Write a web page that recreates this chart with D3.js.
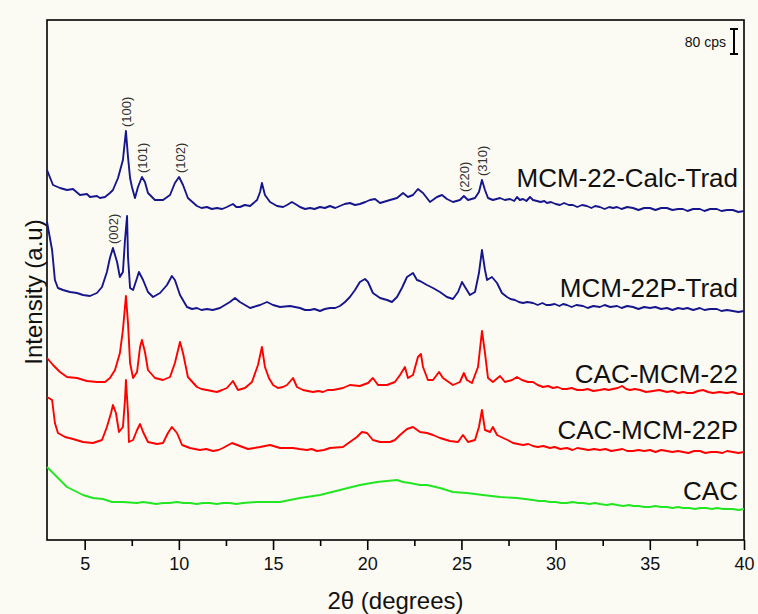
<!DOCTYPE html>
<html>
<head>
<meta charset="utf-8">
<script src="https://cdn.jsdelivr.net/npm/d3@7"></script>
<style>
  html, body { margin: 0; padding: 0; background: #fcfbf3; }
  svg { display: block; font-family: "Liberation Sans", Arial, sans-serif; }
</style>
</head>
<body>
<svg id="chart" width="758" height="614"></svg>
<script>
// XRD patterns, stacked: [2θ (degrees), intensity (a.u., offset included)]
const calcTrad = [
  [3.00,370],[3.32,355],[3.69,352],[4.06,350],[4.38,351],[4.75,345],[5.12,346],[5.28,343],[5.65,344],[5.81,342],
  [6.08,343],[6.34,347],[6.50,350],[6.77,362],[7.03,380],[7.19,409],[7.30,383],[7.41,362],[7.51,353],[7.67,342],
  [7.83,353],[8.04,363],[8.20,358],[8.36,347],[8.73,340],[9.16,340],[9.53,345],[9.79,357],[10.01,363],[10.22,355],
  [10.48,342],[10.96,334],[11.2,332],[11.49,333],[11.75,331],[12.02,332],[12.3,331],[12.55,333],[12.87,336],[13.05,333],
  [13.24,333],[13.5,335],[13.78,334],[14.15,340],[14.31,348],[14.41,357],[14.57,345],[14.84,338],[15.21,334],[15.53,333],
  [15.74,335],[16.00,338],[16.27,335],[16.43,333],[16.7,331],[16.96,332],[17.2,331],[17.49,333],[17.75,332],[18.02,334],
  [18.3,332],[18.55,334],[18.8,336],[19.08,337],[19.35,335],[19.61,336],[19.9,338],[20.14,340],[20.41,341],[20.68,337],
  [21.21,340],[21.58,342],[21.90,347],[22.16,343],[22.43,345],[22.69,351],[22.96,347],[23.33,338],[23.70,343],[23.97,345],
  [24.23,341],[24.55,338],[24.92,340],[25.13,344],[25.35,340],[25.72,342],[25.93,348],[26.09,360],[26.25,350],[26.41,342],
  [26.67,340],[27.05,342],[27.3,340],[27.58,341],[27.8,339],[27.95,343],[28.1,340],[28.27,341],[28.45,339],[28.64,343],
  [28.8,340],[29.01,339],[29.2,338],[29.4,339],[29.54,337],[29.75,338],[30.0,336],[30.23,335],[30.45,337],[30.7,335],
  [30.92,335],[31.15,333],[31.4,335],[31.66,334],[31.9,332],[32.1,334],[32.35,333],[32.6,331],[32.85,333],[33.05,332],
  [33.26,333],[33.5,331],[33.8,333],[34.11,332],[34.4,330],[34.7,332],[35.01,332],[35.3,330],[35.6,332],[35.91,332],
  [36.2,330],[36.5,331],[36.76,331],[37.0,329],[37.3,331],[37.66,331],[37.9,329],[38.2,331],[38.56,331],[38.8,329],
  [39.1,330],[39.41,330],[39.7,328],[40.0,329]
];
const pTrad = [
  [3.00,318],[3.27,290],[3.42,260],[3.58,252],[3.85,250],[4.22,248],[4.59,247],[4.91,245],[5.28,244],[5.65,247],
  [5.92,253],[6.18,268],[6.34,282],[6.50,292],[6.72,278],[6.87,263],[7.03,268],[7.14,300],[7.25,324],[7.30,283],
  [7.41,252],[7.57,250],[7.78,262],[7.88,268],[8.10,260],[8.36,248],[8.63,243],[9.00,247],[9.37,255],[9.63,264],
  [9.79,260],[10.06,245],[10.43,233],[10.7,231],[10.96,232],[11.2,230],[11.49,231],[11.8,230],[12.18,232],[12.71,238],
  [12.98,242],[13.24,238],[13.78,232],[14.31,235],[14.68,238],[15.00,235],[15.37,233],[15.90,234],[16.43,232],[16.7,230],
  [16.96,230],[17.2,231],[17.49,229],[17.75,231],[18.02,232],[18.3,232],[18.55,234],[18.82,238],[19.08,243],[19.35,250],
  [19.61,258],[19.88,261],[20.04,258],[20.30,247],[20.68,242],[21.05,240],[21.31,238],[21.58,243],[21.84,252],[22.11,263],
  [22.27,265],[22.43,267],[22.64,260],[22.80,259],[23.17,255],[23.49,252],[23.86,248],[24.23,243],[24.55,241],[24.82,248],
  [25.03,258],[25.19,253],[25.45,245],[25.72,248],[25.93,267],[26.09,290],[26.25,270],[26.36,260],[26.62,263],[26.89,257],
  [27.15,247],[27.42,243],[27.6,241],[27.84,240],[28.05,238],[28.27,237],[28.5,238],[28.8,237],[29.05,235],[29.3,237],
  [29.5,235],[29.7,235],[29.95,236],[30.2,234],[30.4,236],[30.6,235],[30.85,233],[31.1,235],[31.45,234],[31.7,232],
  [32.0,234],[32.35,233],[32.6,235],[32.9,233],[33.26,234],[33.5,232],[33.8,234],[34.11,233],[34.4,231],[34.7,233],
  [35.01,232],[35.3,233],[35.6,231],[35.91,232],[36.2,230],[36.5,232],[36.76,231],[37.0,232],[37.3,230],[37.66,232],
  [37.9,230],[38.2,231],[38.56,231],[38.8,229],[39.1,230],[39.41,229],[39.7,228],[40.0,229]
];
const cacMcm22 = [
  [3.00,182],[3.32,175],[3.69,168],[4.06,163],[4.59,162],[5.12,159],[5.65,158],[6.08,158],[6.34,162],[6.61,170],
  [6.87,187],[7.03,210],[7.19,244],[7.30,217],[7.41,177],[7.57,162],[7.78,168],[7.94,193],[8.04,200],[8.20,188],
  [8.36,170],[8.73,162],[9.16,160],[9.53,163],[9.79,177],[10.06,198],[10.22,187],[10.48,163],[10.96,153],[11.2,151],
  [11.49,150],[11.75,149],[12.02,148],[12.3,150],[12.55,152],[12.87,159],[13.14,150],[13.51,152],[13.88,158],[14.20,175],
  [14.41,193],[14.57,173],[14.78,162],[15.00,155],[15.26,152],[15.53,153],[15.74,155],[16.06,162],[16.27,153],[16.59,150],
  [16.85,149],[17.12,148],[17.4,149],[17.65,148],[17.9,150],[18.18,150],[18.45,151],[18.71,152],[19.08,155],[19.61,154],
  [20.04,157],[20.30,162],[20.57,155],[21.05,155],[21.47,158],[21.74,165],[22.00,173],[22.16,162],[22.43,165],[22.69,183],
  [22.85,186],[22.96,173],[23.22,160],[23.49,160],[23.81,168],[24.02,162],[24.55,155],[24.92,158],[25.13,167],[25.29,160],
  [25.56,157],[25.88,173],[26.09,209],[26.25,187],[26.41,162],[26.67,158],[27.05,164],[27.31,158],[27.69,160],[27.95,163],
  [28.21,160],[28.53,158],[28.80,158],[29.05,155],[29.33,153],[29.6,154],[29.86,152],[30.1,153],[30.35,151],[30.6,151],
  [30.85,152],[31.15,150],[31.45,150],[31.7,151],[32.0,149],[32.35,150],[32.6,151],[32.8,150],[33.04,151],[33.3,152],
  [33.52,154],[33.75,151],[33.95,150],[34.2,151],[34.48,150],[34.8,148],[35.17,149],[35.5,150],[35.91,148],[36.2,149],
  [36.5,147],[36.76,148],[37.0,147],[37.29,147],[37.55,149],[37.82,150],[38.1,148],[38.35,147],[38.7,148],[39.09,147],
  [39.4,148],[39.7,146],[40.0,146]
];
const cacMcm22P = [
  [3.00,143],[3.27,140],[3.42,117],[3.58,107],[3.96,103],[4.38,101],[4.91,98],[5.44,97],[5.92,100],[6.18,113],
  [6.40,127],[6.50,135],[6.66,127],[6.82,108],[7.03,113],[7.14,140],[7.19,160],[7.30,127],[7.35,98],[7.57,100],
  [7.78,110],[7.94,116],[8.10,108],[8.36,98],[8.84,96],[9.16,97],[9.42,107],[9.63,113],[9.90,107],[10.17,95],
  [10.59,92],[10.85,91],[11.12,90],[11.45,91],[11.81,89],[12.1,90],[12.34,92],[12.82,97],[13.24,94],[13.67,91],
  [14.31,93],[14.84,95],[15.37,92],[16.06,92],[16.4,91],[16.80,90],[17.05,91],[17.33,89],[17.7,90],[18.02,92],
  [18.71,93],[19.08,98],[19.45,103],[19.72,108],[19.99,107],[20.30,100],[20.68,98],[21.21,98],[21.47,100],[21.74,105],
  [22.11,111],[22.43,113],[22.80,108],[23.17,107],[23.49,105],[23.86,102],[24.39,99],[24.82,98],[25.08,105],[25.35,98],
  [25.72,100],[25.93,113],[26.09,130],[26.25,110],[26.52,108],[26.67,113],[26.89,105],[27.21,102],[27.45,100],[27.74,97],
  [28.0,96],[28.27,95],[28.55,96],[28.80,94],[29.05,93],[29.35,94],[29.70,92],[29.95,93],[30.25,91],[30.60,92],
  [30.9,90],[31.15,92],[31.45,91],[31.75,90],[32.05,91],[32.35,90],[32.65,91],[32.95,89],[33.26,90],[33.55,91],
  [33.8,89],[34.11,89],[34.4,90],[34.7,89],[35.01,90],[35.3,88],[35.6,90],[35.91,89],[36.2,88],[36.5,89],
  [36.76,88],[37.05,87],[37.35,89],[37.66,89],[37.95,87],[38.25,88],[38.56,88],[38.85,87],[39.1,89],[39.41,88],
  [39.7,87],[40.0,88]
];
const cac = [
  [3.00,73],[3.32,67],[3.69,60],[4.06,53],[4.38,50],[4.91,45],[5.44,42],[5.97,41],[6.45,38],[7.03,38],
  [7.78,37],[8.1,38],[8.47,37],[8.8,36],[9.16,37],[9.5,37],[9.90,38],[10.25,37],[10.59,37],[10.95,36],
  [11.28,37],[11.65,37],[12.02,36],[12.35,37],[12.71,37],[13.05,36],[13.40,37],[14.15,38],[14.84,38],[15.37,38],
  [15.90,40],[16.43,42],[17.49,45],[18.55,50],[19.61,55],[20.52,58],[21.58,60],[21.90,58],[22.27,57],[22.80,55],
  [23.17,55],[23.86,52],[24.55,48],[25.29,47],[26.14,45],[27.05,43],[27.95,42],[28.80,40],[29.1,39],[29.4,39],
  [29.70,38],[30.0,38],[30.3,37],[30.60,37],[30.9,38],[31.2,37],[31.45,37],[31.8,36],[32.1,37],[32.35,36],
  [32.7,35],[33.0,36],[33.26,35],[33.6,34],[33.9,35],[34.11,34],[34.4,34],[34.7,33],[35.01,33],[35.3,34],
  [35.6,33],[35.91,33],[36.2,32],[36.5,33],[36.76,32],[37.1,32],[37.4,31],[37.66,32],[38.0,32],[38.3,31],
  [38.56,32],[38.9,31],[39.2,31],[39.41,31],[39.7,30],[40.0,31]
];

const seriesData   = [calcTrad, pTrad, cacMcm22, cacMcm22P, cac];
const seriesNames  = ["MCM-22-Calc-Trad", "MCM-22P-Trad", "CAC-MCM-22", "CAC-MCM-22P", "CAC"];
const seriesColors = ["#16168c", "#16168c", "#ff0000", "#ff0000", "#22e622"];

// Reflection indices: [label, 2θ, pattern index]
const reflections = [
  ["(100)", 7.19, 0], ["(101)", 8.04, 0], ["(102)", 10.01, 0],
  ["(220)", 25.13, 0], ["(310)", 26.09, 0], ["(002)", 6.50, 1]
];

const xMajorTicks = [5, 10, 15, 20, 25, 30, 35, 40];
const xMinorTicks = [7.5, 12.5, 17.5, 22.5, 27.5, 32.5, 37.5];
const scaleBarCps = 80;
const cpsPerUnit = 3.2;

const margin = { left: 47, right: 14, top: 20, bottom: 74 };
const W = 758, H = 614;
const svg = d3.select("#chart");

const x = d3.scaleLinear().domain([3, 40]).range([margin.left, W - margin.right]);
const y = d3.scaleLinear().domain([0, 520]).range([H - margin.bottom, margin.top]);

// plot frame
svg.append("rect")
  .attr("x", x(3)).attr("y", y(520))
  .attr("width", x(40) - x(3)).attr("height", y(0) - y(520))
  .attr("fill", "none").attr("stroke", "#000").attr("stroke-width", 1.6);

// bottom axis, major and minor ticks
const axisMajor = d3.axisBottom(x).tickValues(xMajorTicks).tickSize(10).tickPadding(7).tickFormat(d3.format("d"));
const gx = svg.append("g").attr("transform", `translate(0,${y(0)})`).call(axisMajor);
gx.select(".domain").remove();
gx.selectAll(".tick line").attr("stroke", "#000").attr("stroke-width", 1.6);
gx.selectAll(".tick text").attr("font-size", 18).attr("fill", "#111").attr("font-family", "'Liberation Sans', Arial, sans-serif");

const axisMinor = d3.axisBottom(x).tickValues(xMinorTicks).tickSize(6).tickFormat("");
const gxm = svg.append("g").attr("transform", `translate(0,${y(0)})`).call(axisMinor);
gxm.select(".domain").remove();
gxm.selectAll(".tick line").attr("stroke", "#000").attr("stroke-width", 1.6);

// axis titles
svg.append("text")
  .attr("x", (x(3) + x(40)) / 2).attr("y", 609)
  .attr("text-anchor", "middle").attr("font-size", 24).attr("fill", "#111")
  .text("2θ (degrees)");
svg.append("text")
  .attr("transform", "translate(42,292) rotate(-90)")
  .attr("text-anchor", "middle").attr("font-size", 24).attr("fill", "#111")
  .text("Intensity (a.u)");

// patterns
const line = d3.line().x(d => x(d[0])).y(d => y(d[1]));
const plot = svg.append("g");
seriesData.forEach((data, i) => {
  plot.append("path")
    .datum(data)
    .attr("fill", "none")
    .attr("stroke", seriesColors[i])
    .attr("stroke-width", 1.9)
    .attr("stroke-linejoin", "round")
    .attr("d", line);
});

// pattern names, set above each trace end
const nameGap = [24, 14, 11, 13, 9];
seriesData.forEach((data, i) => {
  const last = data[data.length - 1];
  svg.append("text")
    .attr("x", 738).attr("y", y(last[1]) - nameGap[i])
    .attr("text-anchor", "end").attr("font-size", 26).attr("fill", "#111")
    .text(seriesNames[i]);
});

// reflection indices above peaks
reflections.forEach(([label, tt, si]) => {
  const pt = seriesData[si].reduce((a, b) => Math.abs(b[0] - tt) < Math.abs(a[0] - tt) ? b : a);
  svg.append("text")
    .attr("transform", `translate(${x(pt[0]) + 1},${y(pt[1]) - 4}) rotate(-90)`)
    .attr("dominant-baseline", "central")
    .attr("font-size", 13).attr("fill", "#333")
    .text(label);
});

// intensity scale bar
const barX = 734, barTop = 29;
const barLen = y(0) - y(scaleBarCps / cpsPerUnit);
const bar = svg.append("g").attr("stroke", "#000").attr("stroke-width", 2);
bar.append("line").attr("x1", barX).attr("x2", barX).attr("y1", barTop).attr("y2", barTop + barLen);
bar.append("line").attr("x1", barX - 4).attr("x2", barX + 4).attr("y1", barTop).attr("y2", barTop);
bar.append("line").attr("x1", barX - 4).attr("x2", barX + 4).attr("y1", barTop + barLen).attr("y2", barTop + barLen);
svg.append("text")
  .attr("x", 726).attr("y", barTop + barLen / 2 + 5)
  .attr("text-anchor", "end").attr("font-size", 14).attr("fill", "#111")
  .text(scaleBarCps + " cps");
</script>
</body>
</html>
